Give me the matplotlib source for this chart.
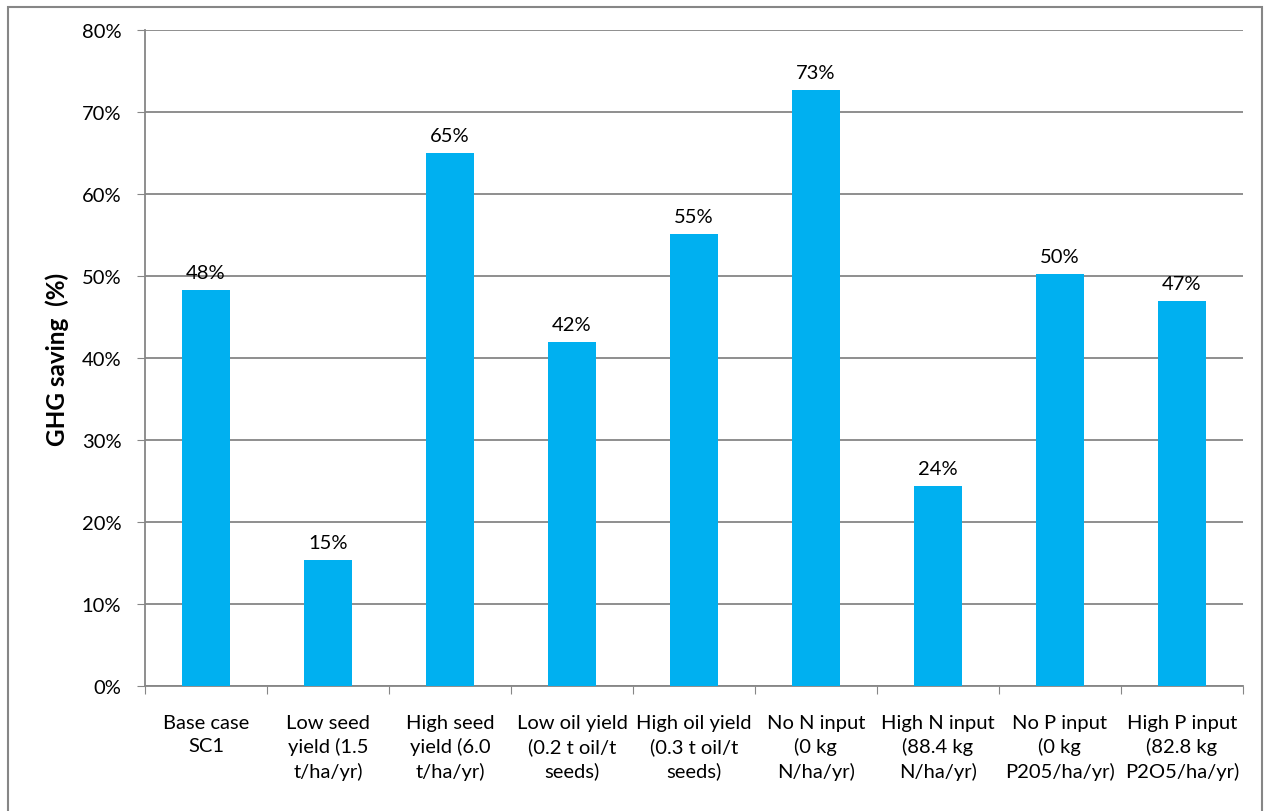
"""
GHG saving sensitivity bar chart
"""
import numpy as np
import matplotlib.pyplot as plt
import matplotlib.patches as patches

# scenario labels and GHG savings (%)
categories = [
    "Base case\nSC1",
    "Low seed\nyield (1.5\nt/ha/yr)",
    "High seed\nyield (6.0\nt/ha/yr)",
    "Low oil yield\n(0.2 t oil/t\nseeds)",
    "High oil yield\n(0.3 t oil/t\nseeds)",
    "No N input\n(0 kg\nN/ha/yr)",
    "High N input\n(88.4 kg\nN/ha/yr)",
    "No P input\n(0 kg\nP205/ha/yr)",
    "High P input\n(82.8 kg\nP2O5/ha/yr)",
]
savings = [48.3, 15.4, 65.0, 42.0, 55.1, 72.7, 24.4, 50.2, 46.9]
y_ticks = [0, 10, 20, 30, 40, 50, 60, 70, 80]

plt.rcParams['font.family'] = ['Lato', 'DejaVu Sans']
fs = 14.5

fig = plt.figure(figsize=(12.67, 8.12), dpi=100)
ax = fig.add_axes([0.1144, 0.1539, 0.8666, 0.8079])

grey = '#868686'
x = np.arange(len(categories))
ax.bar(x, savings, width=0.4, color='#00B0F0', zorder=3)

# value labels above bars
for xi, v in zip(x, savings):
    ax.text(xi, v + 1.1, f"{v:.0f}%", ha='center', va='bottom', fontsize=fs, color='black')

ax.set_xlim(-0.5, len(categories) - 0.5)
ax.set_ylim(0, 80)
ax.set_yticks(y_ticks)
ax.set_yticklabels([f"{t}%" for t in y_ticks], fontsize=fs)
ax.yaxis.grid(True, color=grey, linewidth=1.3, zorder=0)

# category ticks sit between bars, labels centred under bars
ax.set_xticks(np.arange(-0.5, len(categories) + 0.5, 1))
ax.set_xticklabels([])
ax.set_xticks(x, minor=True)
ax.set_xticklabels(categories, minor=True, fontsize=fs, linespacing=1.42, va='top')
ax.tick_params(axis='x', which='minor', length=0, pad=20)
ax.tick_params(axis='x', which='major', length=6, color=grey, direction='out')
ax.tick_params(axis='y', length=6, color=grey, direction='out', pad=11)

for side in ['top', 'right']:
    ax.spines[side].set_visible(False)
for side in ['left', 'bottom']:
    ax.spines[side].set_color(grey)
    ax.spines[side].set_linewidth(1.3)

ax.set_ylabel("GHG saving  (%)", fontsize=17.5, fontweight='bold', labelpad=9)

# outer chart border
border = patches.Rectangle((8 / 1267, -0.01), 1254 / 1267, 1 - 8 / 812 + 0.01,
                           transform=fig.transFigure, fill=False,
                           edgecolor=grey, linewidth=1.5)
fig.patches.append(border)

plt.savefig('out.png', dpi=100)
plt.close()
